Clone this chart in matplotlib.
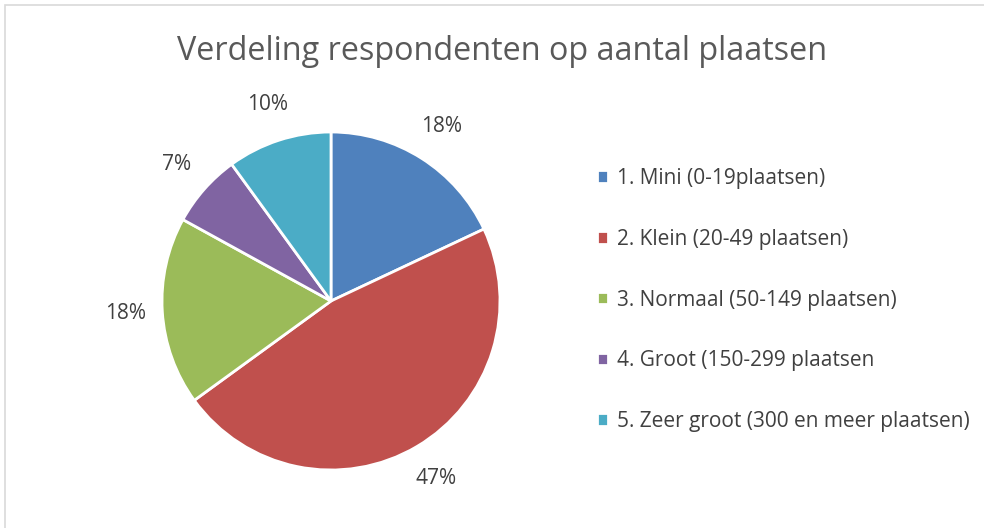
import matplotlib
matplotlib.use('Agg')
import matplotlib.pyplot as plt
from matplotlib.patches import Rectangle

plt.rcParams['font.family'] = ['Open Sans', 'DejaVu Sans']

categories = ['1. Mini (0-19plaatsen)', '2. Klein (20-49 plaatsen)', '3. Normaal (50-149 plaatsen)',
              '4. Groot (150-299 plaatsen', '5. Zeer groot (300 en meer plaatsen)']
shares = [18, 47, 18, 7, 10]
colors = ['#4F81BD', '#C0504D', '#9BBB59', '#8064A2', '#4BACC6']
title = 'Verdeling respondenten op aantal plaatsen'

fig = plt.figure(figsize=(9.84, 5.28), dpi=100)
fig.patches.append(Rectangle((5 / 984, -0.1), 1.2, (523 / 528) + 0.1, transform=fig.transFigure,
                             fill=False, edgecolor='#D9D9D9', linewidth=1.2))

ax = fig.add_axes([162 / 984, 58 / 528, 338 / 984, 338 / 528])
wedges, texts, pcts = ax.pie(shares, colors=colors, startangle=90, counterclock=False,
                             autopct='%d%%', pctdistance=1.22,
                             wedgeprops=dict(edgecolor='white', linewidth=2),
                             textprops=dict(color='#404040', fontsize=15))
ax.set_xlim(-1, 1)
ax.set_ylim(-1, 1)
ax.set_aspect('equal')

fig.text(502 / 984, 1 - 52 / 528, title, ha='center', va='center', fontsize=23.3, color='#595959')

fig.legend(wedges, categories, loc='center left', bbox_to_anchor=(578 / 984, 1 - 300 / 528),
           frameon=False, fontsize=15, labelcolor='#404040', handlelength=0.55, handleheight=0.55,
           handletextpad=0.4, labelspacing=1.91)

plt.savefig('out.png', dpi=100)
